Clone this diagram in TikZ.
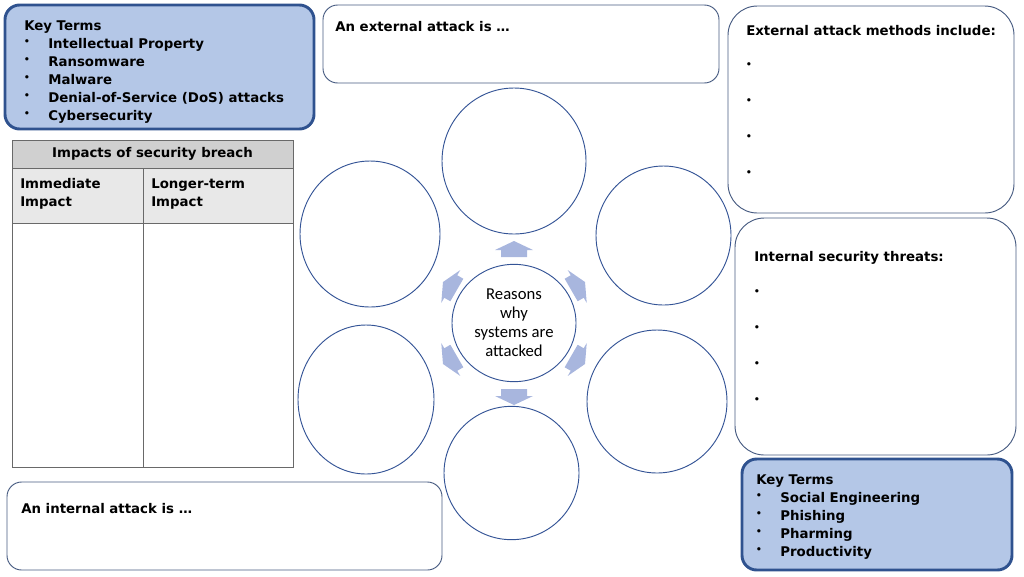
\documentclass[tikz,border=0pt]{standalone}
\usepackage{fontspec}
\setmainfont{DejaVu Sans}
\newfontfamily\calfont{Carlito}
\usetikzlibrary{shapes.geometric,fit}
\definecolor{keyfill}{RGB}{180,199,231}
\definecolor{keyline}{RGB}{47,82,143}
\definecolor{boxline}{RGB}{72,92,130}
\definecolor{ringline}{RGB}{52,84,150}
\definecolor{arrowfill}{RGB}{168,182,222}
\definecolor{hdrfill}{RGB}{208,208,208}
\definecolor{subfill}{RGB}{232,232,232}
\definecolor{tabline}{RGB}{105,105,105}
\tikzset{
  keybox/.style={draw=keyline, line width=2.2pt, fill=keyfill, rounded corners=11pt, inner sep=0pt},
  plainbox/.style={draw=boxline, line width=0.7pt, fill=white, rounded corners=#1, inner sep=0pt},
  plainbox/.default=10pt,
  ring/.style={ellipse, draw=ringline, line width=0.7pt, fill=white, inner sep=0pt},
  txt/.style={anchor=base west, inner sep=0pt, font=\bfseries\fontsize{10}{12}\selectfont},
  bul/.style={anchor=base, inner sep=0pt, font=\fontsize{8.5}{10}\selectfont},
  cell/.style={draw=tabline, line width=0.7pt, inner sep=0pt},
  arr/.style={fill=arrowfill}
}
\begin{document}
\begin{tikzpicture}[x=0.75pt,y=-0.75pt]
\useasboundingbox (0,0) rectangle (1024,576);

% ---- Key terms top-left
\node[keybox, fit={(5,5) (314,129)}] (key1) {};
\node[txt] (k1t) at (24,30) {Key Terms};
\foreach \y/\t [count=\i] in {48/Intellectual Property,66/Ransomware,84/Malware,102/Denial-of-Service (DoS) attacks,120/Cybersecurity}{
  \node[bul] (k1b\i) at (27,\y-3) {•};
  \node[txt] (k1i\i) at (48,\y) {\t};
}

% ---- Table
\node[cell, fill=white, fit={(12,140) (293,467)}] (tab) {};
\node[cell, fill=hdrfill, fit={(12,140) (293,168)}] (thead) {};
\node[cell, fill=subfill, fit={(12,168) (143,223)}] (tsub1) {};
\node[cell, fill=subfill, fit={(143,168) (293,223)}] (tsub2) {};
\draw[tabline, line width=0.7pt] (tsub1.south east) -- (tab.south -| tsub1.east);
\node[anchor=base, inner sep=0pt, font=\bfseries\fontsize{10}{12}\selectfont] (thtext) at (152.5,157) {Impacts of security breach};
\node[txt] (ti1) at (20,188) {Immediate};
\node[txt] (ti2) at (20,206) {Impact};
\node[txt] (tl1) at (151,188) {Longer-term};
\node[txt] (tl2) at (151,206) {Impact};

% ---- External attack is box
\node[plainbox=11pt, fit={(323,5) (719,83)}] (extis) {};
\node[txt] (extist) at (335,31) {An external attack is …};

% ---- External methods box
\node[plainbox=22pt, fit={(728,6) (1014,213)}] (extm) {};
\node[txt] (extmt) at (746,35) {External attack methods include:};
\foreach \y [count=\i] in {65,101,137,173}{
  \node[bul] (extb\i) at (749,\y+3) {•};
}

% ---- Internal threats box
\node[plainbox=22pt, fit={(735,218) (1016,455)}] (intt) {};
\node[txt] (inttt) at (754,261) {Internal security threats:};
\foreach \y [count=\i] in {292,328,364,400}{
  \node[bul] (intb\i) at (757,\y+3) {•};
}

% ---- Key terms bottom-right
\node[keybox, fit={(742,459) (1012,570)}] (key2) {};
\node[txt] (k2t) at (756,484) {Key Terms};
\foreach \y/\t [count=\i] in {502/Social Engineering,520/Phishing,538/Pharming,556/Productivity}{
  \node[bul] (k2b\i) at (759,\y-3) {•};
  \node[txt] (k2i\i) at (780,\y) {\t};
}

% ---- Internal attack is box
\node[plainbox=11pt, fit={(7,482) (442,570)}] (intis) {};
\node[txt] (intist) at (21,513) {An internal attack is …};

% ---- Rings
\node[ring, minimum width=108pt, minimum height=109.5pt] (rtop) at (514,161) {};
\node[ring, minimum width=105pt, minimum height=109.5pt] (rtl) at (370,234) {};
\node[ring, minimum width=101.25pt, minimum height=104.25pt] (rtr) at (663.5,235.5) {};
\node[ring, minimum width=102pt, minimum height=111.75pt] (rbl) at (366,399.5) {};
\node[ring, minimum width=105pt, minimum height=107.25pt] (rbr) at (657,401.5) {};
\node[ring, minimum width=101.25pt, minimum height=100pt] (rb) at (511.5,473) {};
\node[ring, minimum width=93pt, minimum height=88pt, align=center,
      font=\calfont\fontsize{12.5}{14.2}\selectfont] (hub) at (514,323) {Reasons\\why\\systems are\\attacked};

% ---- Block arrows
\foreach \a in {90,150,210,270,330,30}{
  \fill[arr, shift={(hub.center)}, rotate=\a]
    (66,-13) -- (73,-13) -- (73,-19) -- (82,0) -- (73,19) -- (73,13) -- (66,13) -- cycle;
}
\end{tikzpicture}
\end{document}
